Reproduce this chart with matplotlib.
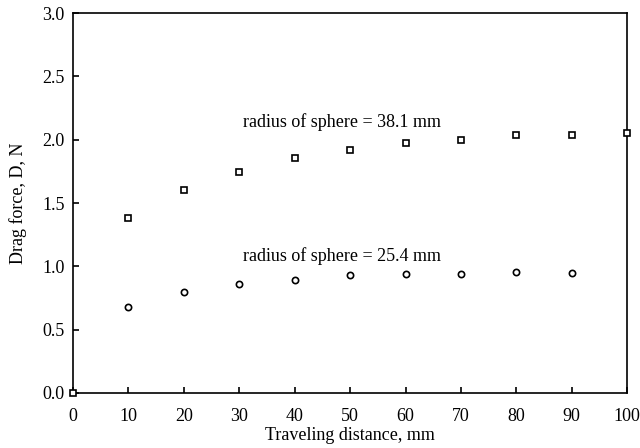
import numpy as np
import matplotlib
matplotlib.use('Agg')
import matplotlib.pyplot as plt

# 数据
dist_large = [0, 10, 20, 30, 40, 50, 60, 70, 80, 90, 100]
drag_large = [0.0, 1.385, 1.60, 1.745, 1.855, 1.92, 1.975, 1.995, 2.035, 2.04, 2.05]

dist_small = [10, 20, 30, 40, 50, 60, 70, 80, 90]
drag_small = [0.68, 0.795, 0.86, 0.895, 0.93, 0.94, 0.94, 0.953, 0.95]

x_ticks = [0, 10, 20, 30, 40, 50, 60, 70, 80, 90, 100]
y_ticks = [0.0, 0.5, 1.0, 1.5, 2.0, 2.5, 3.0]

plt.rcParams['font.family'] = ['Liberation Serif', 'DejaVu Serif']

fig = plt.figure(figsize=(6.4, 4.48), dpi=100)
ax = fig.add_axes([0.114, 0.1228, 0.866, 0.848])

ax.plot(dist_large, drag_large, linestyle='none', marker='s', markersize=4.8,
        markerfacecolor='white', markeredgecolor='black', markeredgewidth=1.2,
        clip_on=False, zorder=3)
ax.plot(dist_small, drag_small, linestyle='none', marker='o', markersize=4.5,
        markerfacecolor='white', markeredgecolor='black', markeredgewidth=1.2,
        clip_on=False, zorder=3)

ax.text(30.7, 2.14, 'radius of sphere = 38.1 mm', fontsize=13, va='center', ha='left')
ax.text(30.7, 1.08, 'radius of sphere = 25.4 mm', fontsize=13, va='center', ha='left')

ax.set_xlim(0, 100)
ax.set_ylim(0, 3.0)
ax.set_xticks(x_ticks)
ax.set_yticks(y_ticks)
ax.set_xticklabels([str(v) for v in x_ticks])
ax.set_yticklabels([f'{v:.1f}' for v in y_ticks])
ax.tick_params(direction='in', length=4, width=1.2, labelsize=13, top=False, right=False)
ax.tick_params(axis='x', pad=11)
ax.tick_params(axis='y', pad=6)

for s in ax.spines.values():
    s.set_linewidth(1.2)
    s.set_color('black')

ax.set_xlabel('Traveling distance, mm', fontsize=13, labelpad=1)
ax.set_ylabel('Drag force, D, N', fontsize=13, labelpad=11)

fig.savefig('out.png', dpi=100)
